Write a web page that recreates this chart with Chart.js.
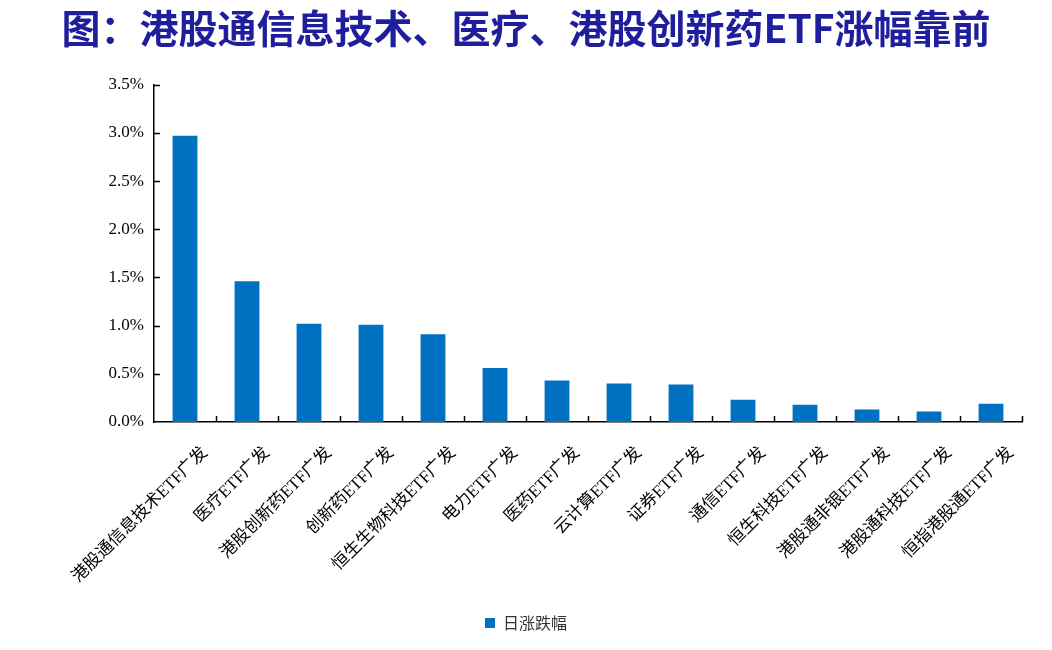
<!DOCTYPE html>
<html>
<head>
<meta charset="utf-8">
<script src="https://cdn.jsdelivr.net/npm/chart.js@4"></script>
<style>
  html, body { margin: 0; padding: 0; background: #fff; }
  #wrap { width: 1052px; height: 650px; position: relative; }
</style>
</head>
<body>
<div id="wrap"><canvas id="myChart"></canvas></div>
<script>
const titleText = '图：港股通信息技术、医疗、港股创新药ETF涨幅靠前';
const labels = [
  '港股通信息技术ETF广发',
  '医疗ETF广发',
  '港股创新药ETF广发',
  '创新药ETF广发',
  '恒生生物科技ETF广发',
  '电力ETF广发',
  '医药ETF广发',
  '云计算ETF广发',
  '证券ETF广发',
  '通信ETF广发',
  '恒生科技ETF广发',
  '港股通非银ETF广发',
  '港股通科技ETF广发',
  '恒指港股通ETF广发',
];
const seriesName = '日涨跌幅';
// daily change, in %
const dailyChange = [2.97, 1.46, 1.02, 1.01, 0.91, 0.56, 0.43, 0.40, 0.39, 0.23, 0.18, 0.13, 0.11, 0.19];
const yMin = 0;
const yMax = 3.5;
const yStep = 0.5;

// Excel-style ticks that point into the plot
const innerTicks = {
  id: 'innerTicks',
  afterDraw(chart) {
    const {ctx, chartArea, scales: {x, y}} = chart;
    ctx.save();
    ctx.strokeStyle = '#000';
    ctx.lineWidth = 1.5;
    ctx.beginPath();
    y.ticks.forEach((t, i) => {
      if (i === 0) return;
      const py = Math.round(y.getPixelForTick(i)) + 0.5;
      ctx.moveTo(chartArea.left, py);
      ctx.lineTo(chartArea.left + 6, py);
    });
    const half = x.width / labels.length / 2;
    for (let i = 0; i < labels.length; i++) {
      const px = Math.round(x.getPixelForValue(i) + half) + 0.5;
      ctx.moveTo(px, chartArea.bottom);
      ctx.lineTo(px, chartArea.bottom - 6);
    }
    ctx.stroke();
    ctx.restore();
  }
};

const data = {
  labels: labels,
  datasets: [
    {
      label: seriesName,
      data: dailyChange,
      backgroundColor: '#0070C0',
      borderWidth: 0,
      categoryPercentage: 1,
      barPercentage: 0.4,
    },
  ]
};

const config = {
  type: 'bar',
  data: data,
  options: {
    responsive: true,
    maintainAspectRatio: false,
    animation: false,
    layout: {
      padding: {left: 30, right: 30, top: 0, bottom: 9}
    },
    plugins: {
      title: {
        display: true,
        text: titleText,
        color: '#1f1f9e',
        font: {family: '"Noto Sans CJK SC"', size: 39, weight: 'bold'},
        padding: {top: 5, bottom: 33}
      },
      legend: {
        position: 'bottom',
        labels: {
          boxWidth: 10,
          boxHeight: 10,
          color: '#333',
          font: {family: '"Noto Sans CJK SC"', size: 16},
          padding: 10
        }
      },
      tooltip: {enabled: false}
    },
    scales: {
      x: {
        afterFit(scale) { scale.height -= 3; },
        grid: {display: false, drawTicks: false},
        border: {display: true, color: '#000', width: 1.5},
        ticks: {
          color: '#000',
          maxRotation: 45,
          minRotation: 45,
          autoSkip: false,
          padding: 21,
          labelOffset: 20,
          font: {family: '"Liberation Serif", "Noto Sans CJK SC"', size: 17}
        }
      },
      y: {
        min: yMin,
        max: yMax,
        afterFit(scale) { scale.width = 124; },
        grid: {display: false, drawTicks: false},
        border: {display: true, color: '#000', width: 1.5},
        ticks: {
          stepSize: yStep,
          color: '#000',
          padding: 10,
          font: {family: '"Liberation Serif"', size: 17},
          callback: (v) => v.toFixed(1) + '%'
        }
      }
    }
  },
  plugins: [innerTicks]
};

const myChart = new Chart(document.getElementById('myChart').getContext('2d'), config);
</script>
</body>
</html>
